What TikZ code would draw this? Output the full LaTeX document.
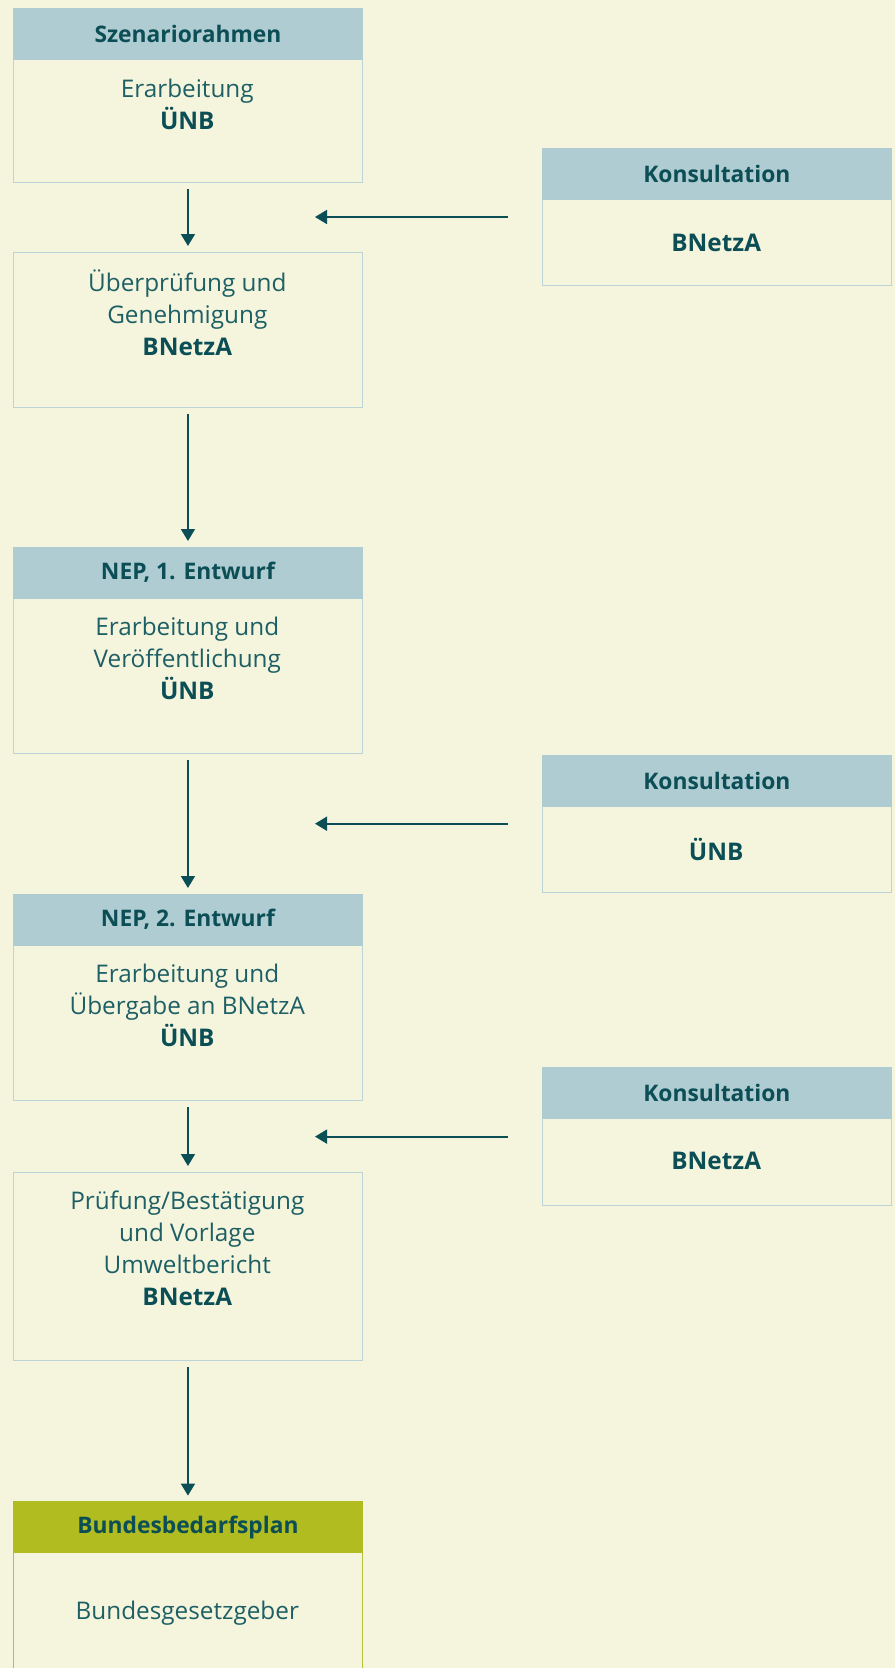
\documentclass[tikz,border=0pt]{standalone}
\usepackage{fontspec}
\setmainfont{Open Sans}
\usetikzlibrary{arrows.meta}
\definecolor{paper}{HTML}{F5F5DE}
\definecolor{headblue}{HTML}{AFCCD2}
\definecolor{headgreen}{HTML}{B0BC1F}
\definecolor{boxline}{HTML}{BCD4D7}
\definecolor{greenline}{HTML}{B6C038}
\definecolor{ink}{HTML}{0B4E55}
\definecolor{inklight}{HTML}{1D5F64}
\newcommand{\org}[1]{\textcolor{ink}{\textbf{#1}}}
\tikzstyle{box}=[draw=boxline, line width=1.3pt, fill=paper, minimum width=349pt, anchor=north west, inner sep=0pt]
\tikzstyle{head}=[fill=headblue, minimum width=350.3pt, minimum height=52pt, anchor=north, inner sep=0pt, text=ink, font=\fontsize{22.8}{26}\selectfont\bfseries]
\tikzstyle{body}=[align=center, inner sep=0pt, text=inklight, font=\fontsize{24.3}{32}\selectfont]
\tikzstyle{arr}=[draw=ink, line width=1.8pt, -{Triangle[length=12pt,width=14pt]}, shorten <=6pt, shorten >=6pt]

\begin{document}
\begin{tikzpicture}[x=1pt, y=-1pt]
\fill[paper] (0,0) rectangle (895,1668);
\useasboundingbox (0,0) rectangle (895,1668);

% left column
\draw (12.8,8.5) node[box, minimum height=173.5pt] (szen) {};
\draw ([yshift=0.65pt]szen.north) node[head] (szenhd) {Szenariorahmen};
\draw (187.3,104) node[body] (szentxt) {Erarbeitung\\\org{ÜNB}};

\draw (12.8,252) node[box, minimum height=154.5pt] (pruef) {};
\draw (187.3,313) node[body] (prueftxt) {Überprüfung und\\Genehmigung\\\org{BNetzA}};

\draw (12.8,547) node[box, minimum height=206pt] (nepa) {};
\draw ([yshift=0.65pt]nepa.north) node[head] (nepahd) {NEP, 1. Entwurf};
\draw (187.3,658) node[body] (nepatxt) {Erarbeitung und\\Veröffentlichung\\\org{ÜNB}};

\draw (12.8,894) node[box, minimum height=206pt] (nepb) {};
\draw ([yshift=0.65pt]nepb.north) node[head] (nepbhd) {NEP, 2. Entwurf};
\draw (187.3,1005) node[body] (nepbtxt) {Erarbeitung und\\Übergabe an BNetzA\\\org{ÜNB}};

\draw (12.8,1172) node[box, minimum height=188pt] (best) {};
\draw (187.3,1248) node[body] (besttxt) {Prüfung/Bestätigung\\und Vorlage\\Umweltbericht\\\org{BNetzA}};

\draw (12.8,1501.6) node[box, draw=greenline, minimum height=185pt] (bbp) {};
\draw ([yshift=0.65pt]bbp.north) node[head, fill=headgreen] (bbphd) {Bundesbedarfsplan};
\draw (187.3,1613) node[body] (bbptxt) {Bundesgesetzgeber};

% right column
\draw (541.7,148) node[box, minimum height=137pt] (konsa) {};
\draw ([yshift=0.65pt]konsa.north) node[head] (konsahd) {Konsultation};
\draw (716.2,243) node[body] (konsatxt) {\org{BNetzA}};

\draw (541.7,755.6) node[box, minimum height=136pt] (konsb) {};
\draw ([yshift=0.65pt]konsb.north) node[head] (konsbhd) {Konsultation};
\draw (716.2,849) node[body] (konsbtxt) {\org{ÜNB}};

\draw (541.7,1067.5) node[box, minimum height=137pt] (konsc) {};
\draw ([yshift=0.65pt]konsc.north) node[head] (konschd) {Konsultation};
\draw (716.2,1161) node[body] (konsctxt) {\org{BNetzA}};

% arrows
\draw[arr] (szen.south) -- (pruef.north);
\draw[arr] (pruef.south) -- (nepa.north);
\draw[arr] (nepa.south) -- (nepb.north);
\draw[arr] (nepb.south) -- (best.north);
\draw[arr] (best.south) -- (bbp.north);

\coordinate (tipa) at (315,217);
\coordinate (tipb) at (315,823.7);
\coordinate (tipc) at (315,1136.6);
\draw[arr, shorten <=34pt, shorten >=0pt] (konsa.west |- tipa) -- (tipa);
\draw[arr, shorten <=34pt, shorten >=0pt] (konsb.west |- tipb) -- (tipb);
\draw[arr, shorten <=34pt, shorten >=0pt] (konsc.west |- tipc) -- (tipc);
\end{tikzpicture}
\end{document}
